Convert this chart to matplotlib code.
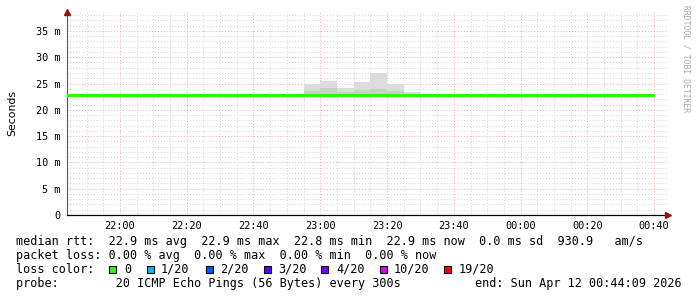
import datetime as dt
import matplotlib
matplotlib.use('Agg')
import matplotlib.pyplot as plt
import matplotlib.dates as mdates
from matplotlib.patches import Rectangle

# median rtt per 5 min step (ms), step starts from 21:40 to 00:35
step_start = dt.datetime(2026, 4, 11, 21, 40)
median_ms = [22.9, 22.9, 22.9, 22.9, 22.9, 22.9, 22.9, 22.9, 22.8, 22.9,
             22.9, 22.9, 22.9, 22.9, 22.9, 22.9, 22.9, 22.9, 22.9, 22.9,
             22.9, 22.9, 22.9, 22.9, 22.9, 22.9, 22.9, 22.9, 22.9, 22.9,
             22.9, 22.9, 22.9, 22.9, 22.9, 22.9]

# smoke (ping spread) where visible
smoke_start = ['22:55', '23:00', '23:05', '23:10', '23:15', '23:20', '23:25']
smoke_lo = [22.7, 22.7, 22.7, 22.7, 22.7, 22.7, 22.7]
smoke_hi = [25.0, 25.5, 24.1, 25.3, 27.0, 25.0, 23.4]
smoke_mid = [23.6, 24.1, 23.3, 23.8, 24.0, 23.6, 23.1]

yticks = [0, 5, 10, 15, 20, 25, 30, 35]
ytick_labels = ['0', '5 m', '10 m', '15 m', '20 m', '25 m', '30 m', '35 m']

loss_colors = ['#26ff00', '#00b8ff', '#0059ff', '#5e00ff', '#7e00ff', '#dd00ff', '#ff0000']
loss_labels = ['0', '1/20', '2/20', '3/20', '4/20', '10/20', '19/20']

W, H = 697, 297
fig = plt.figure(figsize=(W / 100, H / 100), dpi=100)
fig.patch.set_facecolor('white')
ax = fig.add_axes([67 / W, 1 - 215 / H, 601 / W, 203 / H])

def T(hhmm):
    h, m = map(int, hhmm.split(':'))
    d = dt.datetime(2026, 4, 11, h, m)
    if h < 12:
        d += dt.timedelta(days=1)
    return d

step = dt.timedelta(minutes=5)
t0 = dt.datetime(2026, 4, 11, 21, 44, 9)
t1 = dt.datetime(2026, 4, 12, 0, 44, 9)
ax.set_xlim(t0, t1)
ax.set_ylim(0, 38.6)

# grid
gray = '#d4d4d4'
red = '#eeaaaa'
dots = (0, (1, 2))
t = dt.datetime(2026, 4, 11, 21, 45)
while t <= t1:
    major = (t.minute % 20 == 0)
    ax.axvline(t, color=red if major else gray, lw=0.7, ls=dots, zorder=1)
    t += step
for v in range(1, 39):
    ax.axhline(v, color=red if v % 5 == 0 else gray, lw=0.7, ls=dots, zorder=1)

# smoke
for s, lo, mid, hi in zip(smoke_start, smoke_lo, smoke_mid, smoke_hi):
    x = mdates.date2num(T(s))
    w = mdates.date2num(T(s) + step) - x
    ax.add_patch(Rectangle((x, lo), w, hi - lo, facecolor='#dcdcdc', edgecolor='none', zorder=2))
    ax.add_patch(Rectangle((x, lo), w, mid - lo, facecolor='#cdcdcd', edgecolor='none', zorder=2))

# median line
xs = [step_start + i * step for i in range(len(median_ms) + 1)]
ax.stairs(median_ms, xs, color='#26ff00', lw=2.2, zorder=3, baseline=None)

# axes
for sp in ['top', 'right']:
    ax.spines[sp].set_visible(False)
ax.spines['left'].set_color('#555555')
ax.spines['left'].set_linewidth(0.8)
ax.spines['bottom'].set_color('black')
ax.spines['bottom'].set_linewidth(0.9)
ax.plot([0], [1.0], marker='^', color='#9a1010', ms=4, transform=ax.transAxes, clip_on=False, zorder=5)
ax.plot([1.0], [0], marker='>', color='#9a1010', ms=4, transform=ax.transAxes, clip_on=False, zorder=5)

ax.set_yticks(yticks)
ax.set_yticklabels(ytick_labels, family='DejaVu Sans Mono', fontsize=7.4)
xt = [T(s) for s in ['22:00', '22:20', '22:40', '23:00', '23:20', '23:40', '00:00', '00:20', '00:40']]
ax.set_xticks(xt)
ax.set_xticklabels([d.strftime('%H:%M') for d in xt], family='DejaVu Sans Mono', fontsize=7.4)
ax.tick_params(axis='y', length=0, pad=5)
ax.tick_params(axis='x', length=0, pad=4.5)
ax.set_ylabel('Seconds', fontsize=7.8)
ax.yaxis.set_label_coords(-50 / 601, 0.5)

fig.text(686 / W, 1 - 5 / H, 'RRDTOOL / TOBI OETIKER', rotation=270, ha='center', va='top',
         family='DejaVu Sans Mono', fontsize=5.8, color='#a8a8a8')

def px(x, y):
    return x / W, 1 - y / H

mono = dict(family='DejaVu Sans Mono', fontsize=8.45, va='center', ha='left')
fig.text(*px(16, 241.5), 'median rtt:  22.9 ms avg  22.9 ms max  22.8 ms min  22.9 ms now  0.0 ms sd  930.9   am/s', **mono)
fig.text(*px(16, 255.5), 'packet loss: 0.00 % avg  0.00 % max  0.00 % min  0.00 % now', **mono)
fig.text(*px(16, 269.5), 'loss color:', **mono)
box_x = [109.3, 146.6, 205.5, 263.6, 321, 379.8, 443.5]
lab_x = [124, 160.9, 219.8, 277.9, 336, 393.5, 458.3]
for c, l, bx, lx in zip(loss_colors, loss_labels, box_x, lab_x):
    fig.patches.append(Rectangle(px(bx, 273.3), 7 / W, 7.6 / H, facecolor=c, edgecolor='black',
                                 lw=0.8, transform=fig.transFigure, figure=fig))
    fig.text(*px(lx, 269.5), l, **mono)
fig.text(*px(16, 283.5), 'probe:        20 ICMP Echo Pings (56 Bytes) every 300s', **mono)
fig.text(*px(475, 283.5), 'end: Sun Apr 12 00:44:09 2026', **mono)

fig.savefig('out.png', dpi=100, facecolor='white')
